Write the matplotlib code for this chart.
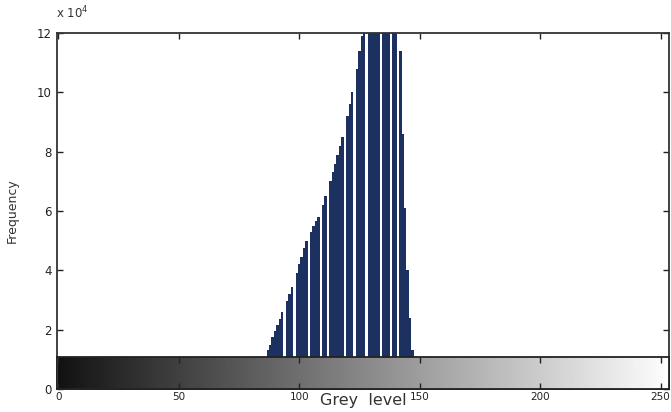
import numpy as np
import matplotlib
matplotlib.use("Agg")
import matplotlib.pyplot as plt

# grey levels and histogram counts (x 10^4)
grey_levels = list(range(87, 148))
counts = [
    1.3, 1.5, 1.75, 1.95, 2.15, 2.35, 2.6, 0.0, 2.95, 3.2,      # 87-96
    3.45, 0.0, 3.9, 4.2, 4.45, 4.75, 5.0, 0.0, 5.3, 5.5,        # 97-106
    5.65, 5.8, 0.0, 6.2, 6.5, 0.0, 7.0, 7.3, 7.6, 7.9,          # 107-116
    8.2, 8.5, 0.0, 9.2, 9.6, 10.0, 0.0, 10.8, 11.4, 11.9,       # 117-126
    12.6, 0.0, 13.0, 13.5, 13.8, 14.0, 14.2, 0.0, 14.3, 14.2,   # 127-136
    14.0, 0.0, 13.6, 13.2, 0.0, 11.4, 8.6, 6.1, 4.0, 2.4,       # 137-146
    1.3,                                                         # 147
]
y_ticks = [0, 2, 4, 6, 8, 10, 12]
x_ticks = [0, 50, 100, 150, 200, 250]

fig = plt.figure(figsize=(6.71, 4.12), dpi=100)
ax = fig.add_axes([57/671, 1-389/412, (669-57)/671, (389-33)/412])

ax.bar(grey_levels, counts, width=1.0, color="#1c3160", linewidth=0)
ax.set_xlim(-0.5, 253.5)
ax.set_ylim(0, 12)
ax.set_yticks(y_ticks)
ax.set_xticks(x_ticks)
ax.tick_params(direction="in", top=True, right=True, length=4, width=1,
               labelsize=8.5, colors="#222222", pad=4)
ax.tick_params(axis="x", pad=2, labelsize=7.5)
for s in ax.spines.values():
    s.set_linewidth(1.3)
    s.set_color("#333333")

# grey-level colorbar strip at the bottom
cb = ax.inset_axes([0, 0, 1, 1.07/12])
grad = np.linspace(0, 1, 256).reshape(1, -1)
cb.imshow(grad, cmap="gray", aspect="auto", extent=[0, 255, 0, 1],
          vmin=-0.08, vmax=1.0)
cb.set_xlim(-0.5, 253.5)
cb.set_ylim(0, 1)
cb.set_yticks([])
cb.set_xticks(x_ticks)
cb.tick_params(direction="in", top=True, bottom=True, labelbottom=False,
               length=4, width=1, colors="#222222")
for s in cb.spines.values():
    s.set_linewidth(1.3)
    s.set_color("#222222")

ax.set_xlabel("Grey  level", fontsize=11.5, labelpad=-6, color="#333333")
ax.set_ylabel("Frequency", fontsize=9, labelpad=13, color="#333333")
fig.text(56/671, 1-13/412, "x 10$^4$", fontsize=8.5, color="#333333",
         ha="left", va="center")

fig.savefig("out.png", dpi=100)
